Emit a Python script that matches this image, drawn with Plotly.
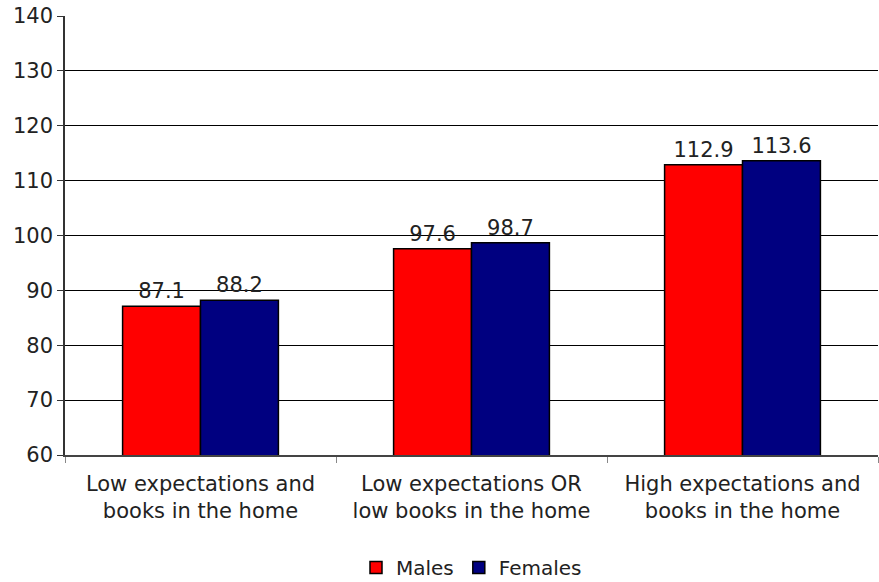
import plotly.graph_objects as go

categories = ["Low expectations and<br>books in the home",
              "Low expectations OR<br>low books in the home",
              "High expectations and<br>books in the home"]
males = [87.1, 97.6, 112.9]
females = [88.2, 98.7, 113.6]
y_ticks = [60, 70, 80, 90, 100, 110, 120, 130, 140]

font = "DejaVu Sans, Verdana, sans-serif"

fig = go.Figure()
fig.add_trace(go.Bar(x=categories, y=males, name="Males",
                     marker=dict(color="#FF0000", line=dict(color="black", width=1.5)),
                     text=[f"{v:.1f}" for v in males], textposition="outside",
                     textfont=dict(size=21, color="#222"), cliponaxis=False))
fig.add_trace(go.Bar(x=categories, y=females, name="Females",
                     marker=dict(color="#000080", line=dict(color="black", width=1.5)),
                     text=[f"{v:.1f}" for v in females], textposition="outside",
                     textfont=dict(size=21, color="#222"), cliponaxis=False))

fig.update_layout(
    width=879, height=582,
    margin=dict(l=65, r=1, t=16, b=127, autoexpand=False),
    paper_bgcolor="white", plot_bgcolor="white",
    barmode="group", bargap=0.425, bargroupgap=0,
    font=dict(family=font, size=21, color="#222"),
    showlegend=True,
    legend=dict(orientation="h", x=0.5, xanchor="center", y=-0.212, yanchor="top",
                font=dict(size=20), itemwidth=30, tracegroupgap=0),
    xaxis=dict(showline=True, linecolor="#444", linewidth=1.5, automargin=False,
               ticks="outside", tickson="boundaries", ticklen=6, tickcolor="#888",
               tickfont=dict(size=21), ticklabelstandoff=9),
    yaxis=dict(range=[60, 140], tickvals=y_ticks, showgrid=True, gridcolor="black", gridwidth=1,
               showline=True, linecolor="#333", linewidth=1.5, automargin=False,
               ticks="outside", ticklen=6, tickcolor="#333",
               tickfont=dict(size=21), zeroline=False),
)

fig.write_html("out.html", config={"displayModeBar": False},
               post_script="document.body.style.margin='0px';")
